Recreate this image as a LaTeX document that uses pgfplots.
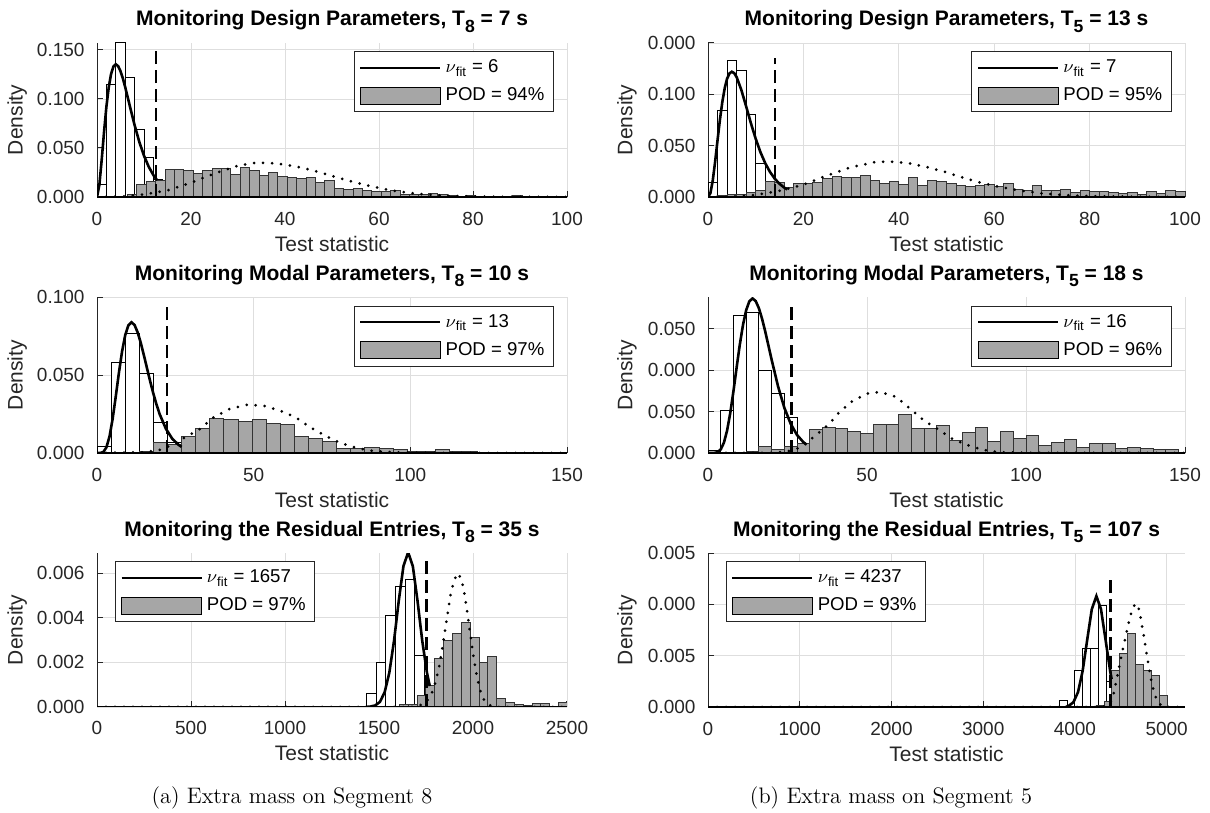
\documentclass[border=0pt]{standalone}
\usepackage{fontspec}
\usepackage{pgfplots}
\pgfplotsset{compat=1.18}
\newfontfamily\arial{Liberation Sans}
\definecolor{histgray}{RGB}{166,166,166}
\definecolor{axgray}{RGB}{38,38,38}
\newcommand{\sub}[1]{\raisebox{-0.55ex}{\fontsize{8.8}{9}\selectfont #1}}
\pgfplotsset{
  panel/.style={
    scale only axis,
    anchor=north west,
    axis x line*=bottom,
    axis y line*=left,
    tick align=inside,
    major tick length=3pt,
    xmajorgrids, ymajorgrids,
    grid style={draw=black!13, line width=0.4pt},
    axis line style={draw=axgray, line width=0.5pt},
    every tick/.style={draw=axgray, line width=0.5pt},
    xmin=0, ymin=0,
    scaled x ticks=false, scaled y ticks=false,
    tick label style={font=\arial\fontsize{9.5}{11}\selectfont, text=axgray},
    xticklabel style={anchor=base, yshift=-14pt},
    yticklabel style={anchor=east, xshift=-2.7pt},
    xlabel={Test statistic}, ylabel={Density},
    label style={font=\arial\fontsize{10.5}{12}\selectfont, text=axgray},
    xlabel style={at={(axis description cs:0.5,0)}, anchor=base, yshift=-27pt},
    ylabel style={at={(axis description cs:-0.17,0.5)}, anchor=center},
    title style={at={(axis description cs:0.5,1)}, anchor=base, yshift=2.5pt, font=\arial\bfseries\fontsize{10.5}{12}\selectfont},
    legend style={draw=axgray, line width=0.5pt, fill=white, font=\arial\fontsize{9.3}{10}\selectfont, inner xsep=2.5pt, inner ysep=2pt, row sep=2pt},
    legend cell align=left,
  },
  whitebar/.style={ybar interval, draw=black, fill=white, line width=0.5pt},
  graybar/.style={ybar interval, draw=black!80, fill=histgray, line width=0.5pt},
  fitline/.style={black, line width=1.3pt},
  dotline/.style={black, line width=1.5pt, dash pattern=on 0pt off 4.5pt, line cap=round},
  dashline/.style={black, line width=1.2pt, dash pattern=on 6.5pt off 3pt},
  baseline/.style={black, line width=1.2pt},
}
\newcommand{\legentries}[2]{%
  \addlegendimage{legend image code/.code={\draw[black,line width=1.3pt] (0pt,0pt) -- (40pt,0pt);}}
  \addlegendentry{$\nu$\textsubscript{fit} = #1}
  \addlegendimage{legend image code/.code={\draw[draw=black,fill=histgray,line width=0.6pt] (0pt,-4.2pt) rectangle (40pt,4.2pt);}}
  \addlegendentry{POD = #2\%}
}
\begin{document}
\begin{tikzpicture}
\useasboundingbox (0,0) rectangle (605pt,-406.5pt);

% ---------------- Panel A ----------------
\begin{axis}[panel, at={(48.5pt,-21.5pt)}, width=235pt, height=77pt,
  xmax=100, ymax=0.157,
  xtick={0,20,40,60,80,100}, xticklabels={0,20,40,60,80,100},
  ytick={0,0.05,0.1,0.15}, yticklabels={0.000,0.050,0.100,0.150},
  title={Monitoring Design Parameters, T\sub{8} = 7 s},
  legend style={at={(0.972,0.945)}, anchor=north east}]
\legentries{6}{94}
\addplot[whitebar] coordinates {(0,0.013) (2,0.115) (4,0.157) (6,0.122) (8,0.069) (10,0.040) (12,0.018) (14,0)};
\addplot[graybar] coordinates {(4.5,0.001) (6.5,0.003) (8.5,0.013) (10.5,0.016) (12.5,0.017) (14.5,0.028) (16.5,0.028) (18.5,0.027) (20.5,0.024) (22.5,0.027) (24.5,0.029) (26.5,0.029) (28.5,0.023) (30.5,0.030) (32.5,0.027) (34.5,0.022) (36.5,0.025) (38.5,0.021) (40.5,0.020) (42.5,0.019) (44.5,0.020) (46.5,0.015) (48.5,0.017) (50.5,0.009) (52.5,0.008) (54.5,0.009) (56.5,0.007) (58.5,0.006) (60.5,0.006) (62.5,0.007) (64.5,0.003) (66.5,0.003) (68.5,0.003) (70.5,0.004) (72.5,0.003) (74.5,0.002) (76.5,0.001) (78.5,0.002) (80.5,0.001) (82.5,0.001) (84.5,0.001) (86.5,0.001) (88.5,0.002) (90.5,0.001) (92.5,0.001) (94.5,0.001) (96.5,0.001) (98.5,0.001) (100.5,0)};
\addplot[dotline] coordinates {(0,0) (5,0.0004) (10,0.0026) (15,0.0068) (20,0.0145) (25,0.0240) (30,0.0320) (34,0.0350) (38,0.0343) (42,0.0314) (46,0.0270) (50,0.0215) (54,0.0160) (58,0.0112) (62,0.0073) (66,0.0044) (70,0.0025) (75,0.0011) (80,0.0004) (90,0.0001) (100,0)};
\addplot[fitline] coordinates {(0,0) (0.5,0.0122) (1,0.0379) (1.5,0.0664) (2,0.0920) (2.5,0.1119) (3,0.1255) (3.5,0.1331) (4,0.1353) (4.5,0.1334) (5,0.1283) (5.5,0.1210) (6,0.1120) (7,0.0925) (8,0.0733) (9,0.0562) (10,0.0421) (11,0.0309) (12,0.0223) (12.8,0.0170)};
\addplot[dashline] coordinates {(12.59,0) (12.59,0.150)};
\addplot[baseline] coordinates {(0,0) (100,0)};
\end{axis}

% ---------------- Panel B ----------------
\begin{axis}[panel, at={(354pt,-21.5pt)}, width=238.5pt, height=77pt,
  xmax=100, ymax=0.15,
  xtick={0,20,40,60,80,100}, xticklabels={0,20,40,60,80,100},
  ytick={0,0.05,0.1,0.15}, yticklabels={0.000,0.050,0.100,0.000},
  title={Monitoring Design Parameters, T\sub{5} = 13 s},
  legend style={at={(0.972,0.945)}, anchor=north east}]
\legentries{7}{95}
\addplot[whitebar] coordinates {(0,0.0137) (2,0.084) (4,0.133) (6,0.123) (8,0.080) (10,0.033) (12,0.015) (14,0.005) (16,0)};
\addplot[graybar] coordinates {(2,0.001) (4,0.002) (6,0.002) (8,0.004) (10,0.006) (12,0.015) (14,0.014) (16,0.009) (18,0.013) (20,0.013) (22,0.014) (24,0.018) (26,0.020) (28,0.019) (30,0.019) (32,0.021) (34,0.016) (36,0.013) (38,0.015) (40,0.012) (42,0.019) (44,0.011) (46,0.016) (48,0.015) (50,0.013) (52,0.011) (54,0.010) (56,0.011) (58,0.012) (60,0.010) (62,0.013) (64,0.007) (66,0.006) (68,0.011) (70,0.006) (72,0.006) (74,0.007) (76,0.004) (78,0.006) (80,0.005) (82,0.005) (84,0.004) (86,0.003) (88,0.004) (90,0.002) (92,0.005) (94,0.003) (96,0.006) (98,0.005) (100,0)};
\addplot[dotline] coordinates {(0,0) (5,0.0003) (10,0.002) (15,0.006) (20,0.012) (25,0.021) (30,0.029) (35,0.034) (38,0.0345) (42,0.033) (46,0.029) (50,0.024) (54,0.018) (58,0.013) (62,0.009) (66,0.006) (70,0.0035) (75,0.0018) (80,0.0008) (90,0.0002) (100,0)};
\addplot[fitline] coordinates {(0,0) (0.5,0.0037) (1,0.0161) (1.5,0.0346) (2,0.0553) (2.5,0.0753) (3,0.0925) (3.5,0.1059) (4,0.1152) (4.5,0.1204) (5,0.1220) (5.5,0.1206) (6,0.1168) (7,0.1041) (8,0.0882) (9,0.0718) (10,0.0567) (11,0.0436) (12,0.0329) (13,0.0244) (14,0.0178) (15,0.0128) (16,0.0091) (16.6,0.0074)};
\addplot[dashline] coordinates {(14.07,0) (14.07,0.135)};
\addplot[baseline] coordinates {(0,0) (100,0)};
\end{axis}

% ---------------- Panel C ----------------
\begin{axis}[panel, at={(48.5pt,-148.5pt)}, width=235pt, height=78pt,
  xmax=150, ymax=0.1,
  xtick={0,50,100,150}, xticklabels={0,50,100,150},
  ytick={0,0.05,0.1}, yticklabels={0.000,0.050,0.100},
  title={Monitoring Modal Parameters, T\sub{8} = 10 s},
  legend style={at={(0.972,0.945)}, anchor=north east}]
\legentries{13}{97}
\addplot[whitebar] coordinates {(0,0.0043) (4.5,0.058) (9,0.0763) (13.5,0.051) (18,0.0194) (22.5,0.007) (27,0)};
\addplot[graybar] coordinates {(13.5,0.001) (18,0.0065) (22.5,0.0055) (27,0.0108) (31.5,0.016) (36,0.0221) (40.5,0.0215) (45,0.0205) (49.5,0.0215) (54,0.0190) (58.5,0.018) (63,0.0105) (67.5,0.0095) (72,0.0075) (76.5,0.003) (81,0.003) (85.5,0.0035) (90,0.003) (94.5,0.0025) (99,0.001) (103.5,0.001) (108,0.0025) (112.5,0.001) (117,0.0008) (121.5,0.0005) (126,0.0004) (130.5,0.0003) (135,0.0003) (139.5,0.0002) (144,0.0002) (148.5,0)};
\addplot[dotline] coordinates {(0,0) (15,0.0005) (20,0.002) (25,0.006) (28,0.010) (33,0.0155) (37,0.0226) (42,0.028) (48,0.031) (54,0.030) (60,0.026) (64,0.022) (68,0.0165) (72,0.0120) (76,0.0080) (80,0.0048) (84,0.0027) (88,0.0014) (92,0.0007) (100,0.0002) (110,0) (150,0)};
\addplot[fitline] coordinates {(0,0) (1,0.00001) (2,0.0006) (3,0.0036) (4,0.0106) (5,0.0220) (6,0.0364) (7,0.0515) (8,0.0651) (9,0.0755) (10,0.0818) (11,0.0838) (12,0.0820) (13,0.0772) (14,0.0704) (15,0.0624) (16,0.0540) (17,0.0457) (18,0.0380) (19,0.0310) (20,0.0249) (22,0.0155) (24,0.0092) (26,0.0053) (27,0.0039)};
\addplot[dashline] coordinates {(22.36,0) (22.36,0.097)};
\addplot[baseline] coordinates {(0,0) (150,0)};
\end{axis}

% ---------------- Panel D ----------------
\begin{axis}[panel, at={(354pt,-148.5pt)}, width=238.5pt, height=78pt,
  xmax=150, ymax=0.188,
  xtick={0,50,100,150}, xticklabels={0,50,100,150},
  ytick={0,0.05,0.1,0.15}, yticklabels={0.000,0.050,0.000,0.050},
  title={Monitoring Modal Parameters, T\sub{5} = 18 s},
  legend style={at={(0.972,0.945)}, anchor=north east}]
\legentries{16}{96}
\addplot[whitebar] coordinates {(0,0.0032) (4,0.0508) (8,0.166) (12,0.169) (16,0.100) (20,0.0714) (24,0.043) (28,0)};
\addplot[graybar] coordinates {(12,0.0015) (16,0.008) (20,0.004) (24,0.008) (28,0.012) (32,0.028) (36,0.031) (40,0.030) (44,0.026) (48,0.023) (52,0.034) (56,0.034) (60,0.046) (64,0.030) (68,0.030) (72,0.033) (76,0.015) (80,0.025) (84,0.031) (88,0.014) (92,0.026) (96,0.017) (100,0.021) (104,0.009) (108,0.013) (112,0.016) (116,0.007) (120,0.011) (124,0.012) (128,0.006) (132,0.007) (136,0.006) (140,0.004) (144,0.004) (148,0.001) (152,0)};
\addplot[dotline] coordinates {(0,0) (20,0.0002) (25,0.002) (28.5,0.006) (32.8,0.018) (38,0.0345) (41.4,0.0496) (45.7,0.0635) (50.6,0.0722) (54.3,0.0734) (59.2,0.0675) (64.1,0.0516) (68.4,0.0377) (72.7,0.0278) (76.3,0.018) (81.3,0.010) (86.2,0.004) (91,0.001) (100,0.0002) (150,0)};
\addplot[fitline] coordinates {(0,0) (2,0.0001) (3,0.0010) (4,0.0043) (5,0.0124) (6,0.0270) (7,0.0482) (8,0.0744) (9,0.1030) (10,0.1306) (11,0.1543) (12,0.1721) (13,0.1828) (14,0.1863) (15,0.1831) (16,0.1745) (17,0.1618) (18,0.1464) (20,0.1126) (22,0.0807) (24,0.0546) (26,0.0352) (28,0.0217) (30,0.0130) (31,0.0100)};
\addplot[dashline] coordinates {(26.3,0) (26.3,0.178)};
\addplot[baseline] coordinates {(0,0) (150,0)};
\end{axis}

% ---------------- Panel E ----------------
\begin{axis}[panel, at={(48.5pt,-276.5pt)}, width=235pt, height=77pt,
  xmax=2500, ymax=0.0069,
  xtick={0,500,1000,1500,2000,2500}, xticklabels={0,500,1000,1500,2000,2500},
  ytick={0,0.002,0.004,0.006}, yticklabels={0.000,0.002,0.004,0.006},
  title={Monitoring the Residual Entries, T\sub{8} = 35 s},
  legend style={at={(0.038,0.945)}, anchor=north west}]
\legentries{1657}{97}
\addplot[whitebar] coordinates {(1435,0.0006) (1486,0.0020) (1537,0.0041) (1588,0.0054) (1639,0.0057) (1690,0.0023) (1741,0)};
\addplot[graybar] coordinates {(1609,0.0001) (1656,0.0001) (1703,0.0005) (1750,0.00095) (1797,0.00217) (1844,0.0030) (1891,0.0033) (1938,0.0038) (1985,0.0031) (2032,0.0020) (2079,0.00226) (2126,0.00037) (2173,0.0002) (2220,0.00012) (2267,0.00005) (2314,0.00015) (2361,0.00015) (2408,0.00003) (2455,0.0002) (2502,0)};
\addplot[dotline] coordinates {(0,0) (1650,0) (1700,0.00001) (1750,0.0002) (1780,0.0006) (1800,0.0011) (1820,0.0018) (1840,0.0028) (1860,0.0039) (1880,0.0050) (1900,0.0057) (1920,0.0060) (1940,0.0057) (1960,0.0048) (1980,0.0036) (2000,0.0024) (2020,0.0014) (2040,0.0007) (2060,0.0003) (2080,0.0001) (2120,0) (2500,0)};
\addplot[fitline] coordinates {(1430,0) (1455,0.00002) (1480,0.00007) (1505,0.00023) (1530,0.00066) (1555,0.00154) (1580,0.00297) (1605,0.00475) (1630,0.00631) (1655,0.00693) (1680,0.00631) (1705,0.00475) (1730,0.00297) (1755,0.00154) (1770,0.00094)};
\addplot[dashline] coordinates {(1752,0) (1752,0.00664)};
\addplot[baseline] coordinates {(0,0) (2500,0)};
\end{axis}

% ---------------- Panel F ----------------
\begin{axis}[panel, at={(354pt,-276.5pt)}, width=238.5pt, height=77pt,
  xmax=5200, ymax=0.015,
  xtick={0,1000,2000,3000,4000,5000}, xticklabels={0,1000,2000,3000,4000,5000},
  ytick={0,0.005,0.01,0.015}, yticklabels={0.000,0.005,0.000,0.005},
  title={Monitoring the Residual Entries, T\sub{5} = 107 s},
  legend style={at={(0.037,0.945)}, anchor=north west}]
\legentries{4237}{93}
\addplot[whitebar] coordinates {(3830,0.0006) (3915,0) (4000,0.0036) (4085,0.0057) (4170,0.0057) (4255,0.0099) (4340,0.0025) (4425,0)};
\addplot[graybar] coordinates {(4232,0.0001) (4317,0.0005) (4404,0.0036) (4490,0.0052) (4577,0.0072) (4664,0.0041) (4751,0.0036) (4838,0.0031) (4925,0.0011) (5012,0)};
\addplot[dotline] coordinates {(0,0) (4300,0) (4380,0.0003) (4420,0.0012) (4460,0.0029) (4500,0.0047) (4540,0.0063) (4580,0.0080) (4620,0.0094) (4660,0.0101) (4700,0.0095) (4740,0.0075) (4780,0.0053) (4820,0.0031) (4860,0.0015) (4900,0.0005) (4950,0.0001) (5000,0) (5200,0)};
\addplot[fitline] coordinates {(3900,0) (3934,0.00012) (3984,0.00047) (4034,0.00146) (4084,0.00351) (4134,0.00655) (4184,0.00953) (4234,0.0108) (4284,0.00953) (4334,0.00655) (4384,0.00351) (4400,0.00272)};
\addplot[dashline] coordinates {(4388,0) (4388,0.0125)};
\addplot[baseline] coordinates {(0,0) (5200,0)};
\end{axis}

\node[font=\fontsize{11.2}{13}\selectfont, anchor=base] at (146pt,-401.5pt) {(a) Extra mass on Segment 8};
\node[font=\fontsize{11.2}{13}\selectfont, anchor=base] at (445.5pt,-401.5pt) {(b) Extra mass on Segment 5};
\end{tikzpicture}
\end{document}
